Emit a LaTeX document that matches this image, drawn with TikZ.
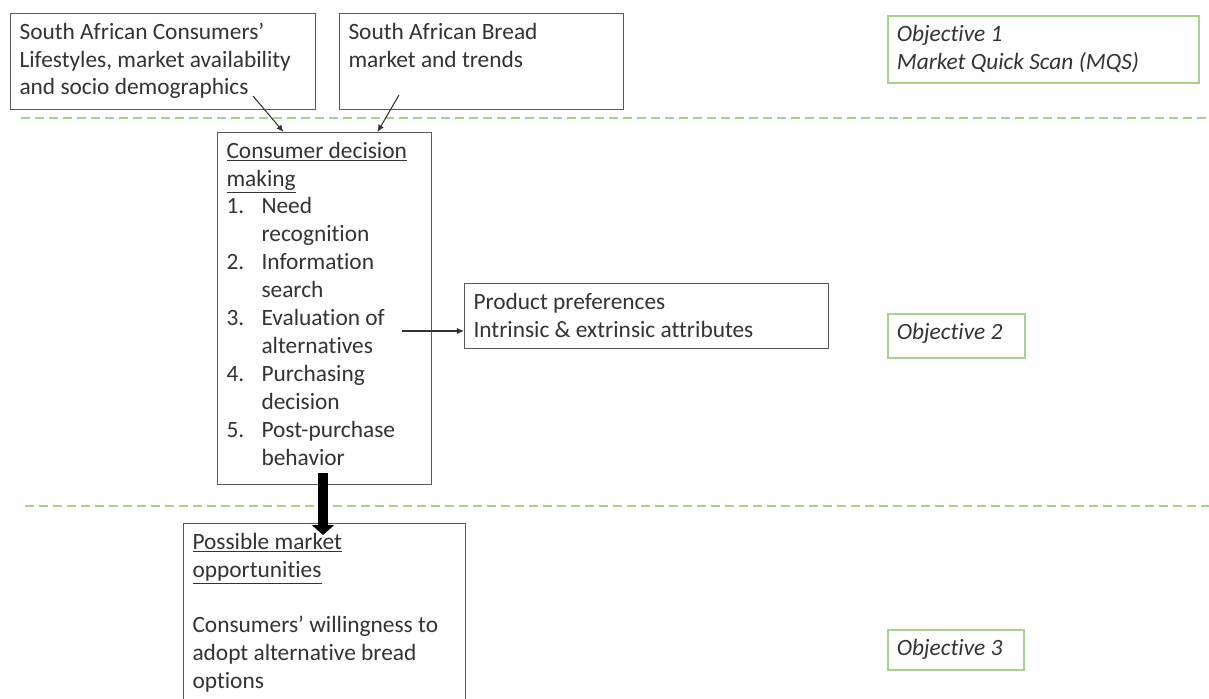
\documentclass[tikz,border=0pt]{standalone}
\usepackage{fontspec}
\setmainfont{Carlito}[Ligatures=NoCommon]
\usetikzlibrary{arrows.meta,positioning}

\definecolor{objgreen}{HTML}{A9D18E}
\definecolor{boxgrey}{HTML}{595959}
\definecolor{txtgrey}{HTML}{333333}

% numbered step with hanging indent
\newcommand{\stepitem}[2]{\par\hangindent=0.7cm\hangafter=1\noindent\makebox[0.7cm][l]{#1}#2\par}

\begin{document}
\begin{tikzpicture}[
  x=0.02cm,
  y=-0.02cm,
  box/.style={
    rectangle,
    draw=boxgrey,
    line width=0.6pt,
    fill=white,
    text=txtgrey,
    inner xsep=0.18cm,
    inner ysep=0.12cm,
    anchor=north west,
    font=\fontsize{13.3}{15.9}\selectfont
  },
  objbox/.style={
    box,
    draw=objgreen,
    line width=0.9pt,
    font=\fontsize{13.3}{15.9}\selectfont\itshape
  },
  divider/.style={
    draw=objgreen,
    line width=1.1pt,
    dash pattern=on 0.18cm off 0.1cm
  },
  link/.style={
    draw=txtgrey,
    line width=0.6pt,
    -{Latex[length=4pt,width=3.5pt]}
  },
  bigarrow/.style={
    draw=black,
    line width=0.2cm,
    -{Triangle[length=0.2cm,width=0.44cm]}
  }
]
\useasboundingbox (0,0) rectangle (1209,699);
\clip (0,0) rectangle (1209,699);

% Section dividers
\draw[divider] (21,118) -- (1209,118);
\draw[divider] (25,506) -- (1209,506);

% Top row: inputs
\node[box] (lifestyle) at (10,13) {\parbox[t][1.68cm][t]{5.74cm}{\strut South African Consumers'\\Lifestyles, market availability\\and socio demographics}};
\node[box, right=0.46cm of lifestyle] (bread) {\parbox[t][1.68cm][t]{5.32cm}{\strut South African Bread\\market and trends}};
\node[objbox] (objective1) at (887,15) {\parbox[t][1.1cm][t]{5.86cm}{\strut Objective 1\\Market Quick Scan (MQS)}};

% Consumer decision making
\node[box] (decision) at (217,132) {\parbox[t][6.8cm][t]{3.92cm}{\strut\underline{Consumer decision}\\\underline{making}
  \stepitem{1.}{Need\\recognition}
  \stepitem{2.}{Information\\search}
  \stepitem{3.}{Evaluation of\\alternatives}
  \stepitem{4.}{Purchasing\\decision}
  \stepitem{5.}{Post-purchase\\behavior}}};
\coordinate (lifeout) at (253,96);
\coordinate (breadout) at (399,95);
\draw[link] (lifeout) -- ([xshift=-0.82cm]decision.north);
\draw[link] (breadout) -- ([xshift=1.06cm]decision.north);

% Product preferences
\node[box] (preferences) at (464,283) {\parbox[t][1.06cm][t]{6.92cm}{\strut Product preferences\\Intrinsic \& extrinsic attributes}};
\coordinate (evalout) at (402,331);
\draw[link] (evalout) -- (evalout -| preferences.west);
\node[objbox] (objective2) at (887,313) {\parbox[t][0.64cm][t]{2.38cm}{\strut Objective 2}};

% Market opportunities
\node[box] (opportunities) at (183,523) {\parbox[t][3.56cm][t]{5.28cm}{\strut\underline{Possible market}\\\underline{opportunities}\\[15.9pt]Consumers' willingness to\\adopt alternative bread\\options}};
\coordinate (behaviorout) at (323,473);
\coordinate (oppin) at (323,535);
\draw[bigarrow] (behaviorout) -- (oppin);
\node[objbox] (objective3) at (887,629) {\parbox[t][0.56cm][t]{2.36cm}{\strut Objective 3}};

\end{tikzpicture}
\end{document}
